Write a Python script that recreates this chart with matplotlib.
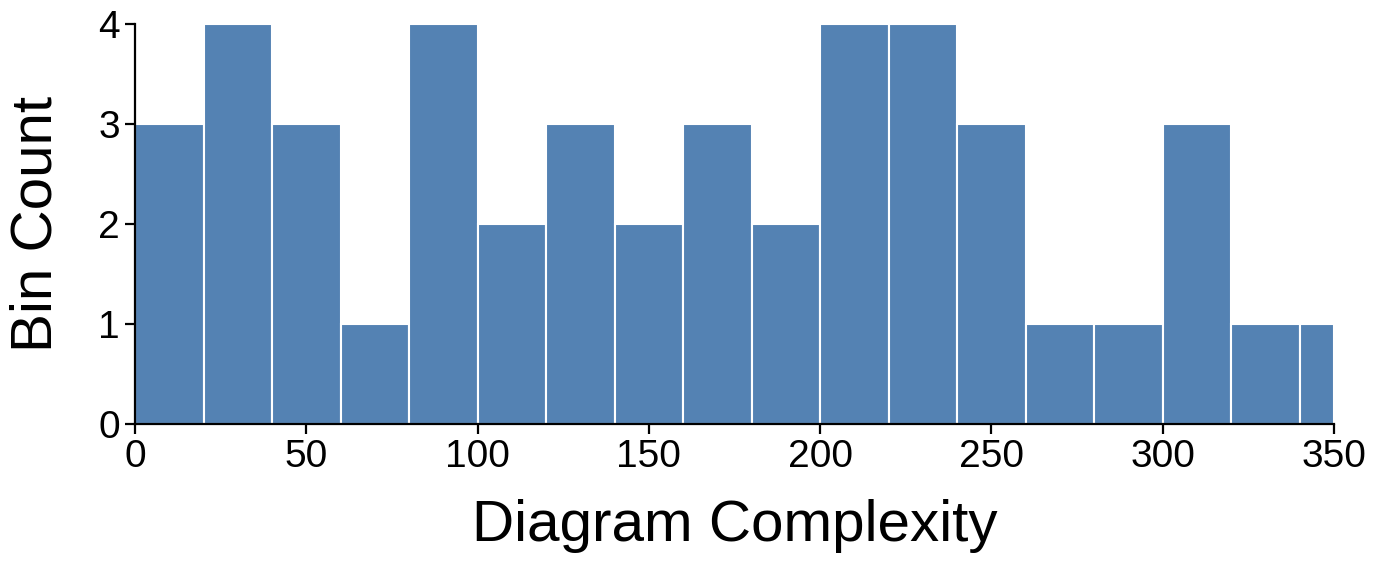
import matplotlib
matplotlib.use("Agg")
import matplotlib.pyplot as plt
import numpy as np

bin_edges = [0, 20, 40, 60, 80, 100, 120, 140, 160, 180, 200, 220, 240, 260, 280, 300, 320, 340, 350]
bin_counts = [3, 4, 3, 1, 4, 2, 3, 2, 3, 2, 4, 4, 3, 1, 1, 3, 1, 1]
x_ticks = [0, 50, 100, 150, 200, 250, 300, 350]
y_ticks = [0, 1, 2, 3, 4]

plt.rcParams['font.family'] = ['Liberation Sans', 'DejaVu Sans']

fig = plt.figure(figsize=(13.74, 5.64), dpi=100)
ax = fig.add_axes([135/1374, 1 - 424/564, 1199/1374, 400/564])

edges = np.array(bin_edges, dtype=float)
ax.bar(edges[:-1], bin_counts, width=np.diff(edges), align='edge',
       color='#5482b3', edgecolor='white', linewidth=1.5)

ax.set_xlim(0, 350)
ax.set_ylim(0, 4)
ax.set_xticks(x_ticks)
ax.set_yticks(y_ticks)
for s in ['top', 'right']:
    ax.spines[s].set_visible(False)
for s in ['left', 'bottom']:
    ax.spines[s].set_linewidth(1.6)
ax.tick_params(axis='both', length=7, width=1.6, labelsize=28, pad=4)
ax.set_xlabel('Diagram Complexity', fontsize=42, labelpad=17)
ax.set_ylabel('Bin Count', fontsize=42, labelpad=25)

fig.savefig('out.png', dpi=100)
